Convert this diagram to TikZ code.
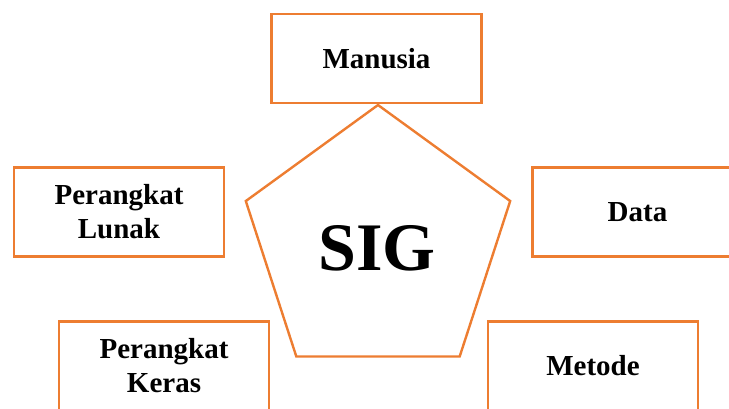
\documentclass[tikz,border=0pt]{standalone}
\usepackage{fontspec}
\setmainfont{Liberation Serif}
\usetikzlibrary{shapes.geometric}
\definecolor{borange}{HTML}{ED7D31}
\tikzset{
  box/.style={draw=borange, line width=2.4pt, fill=white, minimum width=210pt, minimum height=89pt,
    align=center, font=\fontsize{29}{34}\selectfont\bfseries, inner sep=0pt},
  pent/.style={draw=borange, line width=2.4pt, regular polygon, regular polygon sides=5,
    minimum size=278pt, inner sep=0pt, font=\fontsize{68}{70}\selectfont\bfseries}
}
\begin{document}
\begin{tikzpicture}[x=1pt,y=-1pt]
\useasboundingbox (0,0) rectangle (729,408);
\clip (0,0) rectangle (729,408);
\node[box] (manusia) at (376.5,58.5) {Manusia};
\node[box] (data) at (637.5,212) {Data};
\node[box] (lunak) at (119,212) {Perangkat\\Lunak};
\node[box] (keras) at (164,366) {Perangkat\\Keras};
\node[box] (metode) at (593,366) {Metode};
\node[pent] (sig) at (378,244) {};
\node[font=\fontsize{68}{70}\selectfont\bfseries, inner sep=0pt] (sigtext) at (377,248) {SIG};
\end{tikzpicture}
\end{document}
